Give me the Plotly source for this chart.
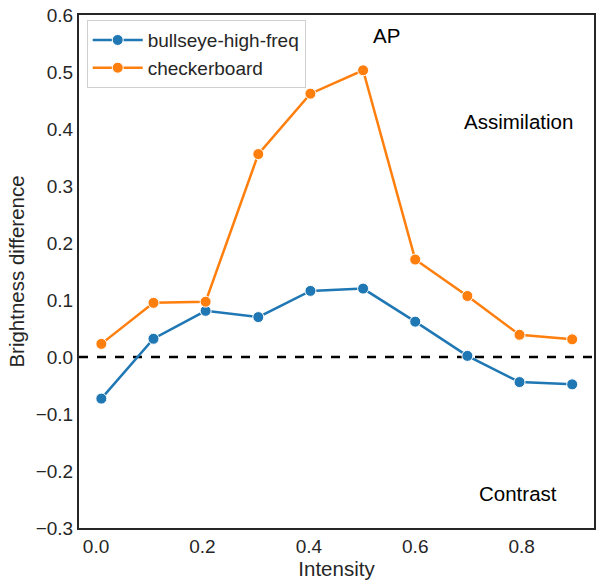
import plotly.graph_objects as go

intensity = [0.01, 0.108, 0.206, 0.305, 0.403, 0.502, 0.600, 0.698, 0.796, 0.895]
bullseye = [-0.073, 0.032, 0.081, 0.070, 0.116, 0.120, 0.062, 0.002, -0.044, -0.048]
checkerboard = [0.023, 0.095, 0.097, 0.356, 0.462, 0.503, 0.171, 0.107, 0.039, 0.031]
series_names = ["bullseye-high-freq", "checkerboard"]
colors = ["#1f77b4", "#ff7f0e"]
x_ticks = [0.0, 0.2, 0.4, 0.6, 0.8]
y_ticks = [-0.3, -0.2, -0.1, 0.0, 0.1, 0.2, 0.3, 0.4, 0.5, 0.6]
labels = [("AP", 0.546, 0.564), ("Assimilation", 0.794, 0.4135), ("Contrast", 0.794, -0.24)]

FONT = "Liberation Sans, Arial, sans-serif"
TXT = "#262626"

fig = go.Figure()
for name, vals, col in zip(series_names, [bullseye, checkerboard], colors):
    fig.add_trace(go.Scatter(
        x=intensity, y=vals, name=name, mode="lines+markers",
        line=dict(color=col, width=2.5),
        marker=dict(color=col, size=11, line=dict(color="white", width=1)),
    ))

fig.add_shape(type="line", xref="x domain", yref="y", x0=0, x1=1, y0=0, y1=0,
              line=dict(color="black", width=2.5, dash="dash"), layer="below")

for text, xv, yv in labels:
    fig.add_annotation(x=xv, y=yv, xref="x", yref="y", text=text, showarrow=False,
                       font=dict(family=FONT, size=20.5, color="black"))

fig.update_layout(
    width=601, height=581,
    margin=dict(l=79, r=5, t=13, b=53),
    plot_bgcolor="white", paper_bgcolor="white",
    font=dict(family=FONT, size=19, color=TXT),
    showlegend=True,
    legend=dict(x=0.015, y=0.99, xanchor="left", yanchor="top",
                bgcolor="rgba(255,255,255,0.8)", bordercolor="#d0d0d0", borderwidth=1,
                itemwidth=50,
                font=dict(family=FONT, size=19, color=TXT), tracegroupgap=0),
)
fig.update_xaxes(range=[-0.032, 0.936], tickvals=x_ticks, tickformat=".1f",
                 showgrid=False, zeroline=False, showline=True, linecolor="#262626",
                 linewidth=2, mirror=True, ticks="",
                 title=dict(text="Intensity", font=dict(size=20.5, color=TXT), standoff=1))
fig.update_yaxes(range=[-0.3, 0.6], tickvals=y_ticks, tickformat=".1f",
                 showgrid=False, zeroline=False, showline=True, linecolor="#262626",
                 linewidth=2, mirror=True, ticks="",
                 title=dict(text="Brightness difference", font=dict(size=20.5, color=TXT), standoff=6))

fig.write_html("out.html")
